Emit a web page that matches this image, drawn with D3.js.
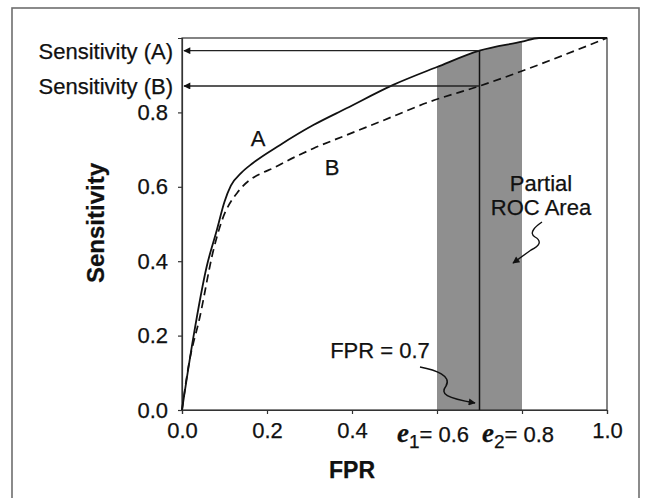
<!DOCTYPE html>
<html>
<head>
<meta charset="utf-8">
<script src="https://cdn.jsdelivr.net/npm/d3@7"></script>
<style>
  body { margin: 0; background: #fff; }
  text { font-family: "Liberation Sans", Arial, Helvetica, sans-serif; fill: #111; stroke: #111; stroke-width: 0.25px; }
</style>
</head>
<body>
<svg id="chart" width="648" height="498"></svg>
<script>
// ROC curve A (solid) and B (dashed): [FPR, sensitivity]
const curveA = [[0, 0], [0.027, 0.197], [0.058, 0.385], [0.082, 0.484], [0.1, 0.56], [0.115, 0.603], [0.14, 0.638],
    [0.167, 0.664], [0.23, 0.712], [0.309, 0.766], [0.387, 0.811], [0.497, 0.874], [0.6, 0.922],
    [0.7, 0.966], [0.8, 0.99], [0.84, 1.0], [1, 1]];
const curveB = [[0, 0], [0.015, 0.116], [0.042, 0.25], [0.074, 0.43], [0.093, 0.506], [0.132, 0.587],
    [0.23, 0.659], [0.309, 0.703], [0.387, 0.739], [0.466, 0.775], [0.584, 0.829], [0.7, 0.871], [1, 1]];
const yTicks = [0, 0.2, 0.4, 0.6, 0.8];
const xTicks = [0, 0.2, 0.4, 0.6, 0.8, 1.0];
const xTickLabels = ["0.0", "0.2", "0.4", "", "", "1.0"];
const band = [0.6, 0.8];          // partial ROC area e1..e2
const fprCut = 0.7;               // FPR = 0.7
const sensAt = [["Sensitivity (A)", 0.966], ["Sensitivity (B)", 0.871]];
const eLabels = [["1", 0.6], ["2", 0.8]];

const svg = d3.select("#chart");
const x = d3.scaleLinear().domain([0, 1]).range([182, 607]);
const y = d3.scaleLinear().domain([0, 1]).range([410, 38]);

// outer frame
svg.append("rect")
    .attr("x", 12).attr("y", 8).attr("width", 627).attr("height", 520)
    .attr("fill", "none").attr("stroke", "#6e6e6e").attr("stroke-width", 1.6);

svg.append("defs").append("marker")
    .attr("id", "arrow").attr("viewBox", "0 0 10 10")
    .attr("refX", 9).attr("refY", 5)
    .attr("markerWidth", 10).attr("markerHeight", 7)
    .attr("markerUnits", "userSpaceOnUse")
    .attr("orient", "auto")
    .append("path").attr("d", "M0,0 L10,5 L0,10 z").attr("fill", "#111");

// shaded partial area under A
let bandPts = curveA.filter(d => d[0] >= band[0] && d[0] <= band[1]);
svg.append("path")
    .datum(bandPts)
    .attr("fill", "#8f8f8f")
    .attr("d", d3.area().x(d => x(d[0])).y0(y(0)).y1(d => y(d[1])).curve(d3.curveMonotoneX));

// plot box
svg.append("rect")
    .attr("x", x(0)).attr("y", y(1)).attr("width", x(1) - x(0)).attr("height", y(0) - y(1))
    .attr("fill", "none").attr("stroke", "#333").attr("stroke-width", 1.2);

// axes
let yAxis = svg.append("g")
    .attr("transform", `translate(${x(0)},0)`)
    .call(d3.axisLeft(y).tickValues(yTicks).tickSize(4).tickPadding(10).tickFormat(d3.format(".1f")));
let xAxis = svg.append("g")
    .attr("transform", `translate(0,${y(0)})`)
    .call(d3.axisBottom(x).tickValues(xTicks).tickSize(4).tickPadding(8).tickFormat((d, i) => xTickLabels[i]));
[yAxis, xAxis].forEach(g => {
    g.select(".domain").attr("stroke", "#333").attr("stroke-width", 1.2);
    g.selectAll(".tick line").attr("stroke", "#333").attr("stroke-width", 1.2);
    g.selectAll(".tick text").attr("font-size", 22).attr("fill", "#111")
        .style("font-family", '"Liberation Sans", Arial, sans-serif');
});

// curves
let line = d3.line().x(d => x(d[0])).y(d => y(d[1])).curve(d3.curveMonotoneX);
svg.append("path").datum(curveB)
    .attr("fill", "none").attr("stroke", "#111").attr("stroke-width", 1.7)
    .attr("stroke-dasharray", "8,5").attr("d", line);
svg.append("path").datum(curveA)
    .attr("fill", "none").attr("stroke", "#111").attr("stroke-width", 1.8).attr("d", line);

// FPR = 0.7 vertical line
svg.append("line")
    .attr("x1", x(fprCut)).attr("x2", x(fprCut))
    .attr("y1", y(0)).attr("y2", y(sensAt[0][1]))
    .attr("stroke", "#111").attr("stroke-width", 1.5);

// sensitivity arrows and labels
sensAt.forEach(([label, v]) => {
    svg.append("line")
        .attr("x1", x(fprCut)).attr("x2", x(0) + 2)
        .attr("y1", y(v)).attr("y2", y(v))
        .attr("stroke", "#222").attr("stroke-width", 1.3)
        .attr("marker-end", "url(#arrow)");
    svg.append("text")
        .attr("x", 173).attr("y", y(v) + 8)
        .attr("text-anchor", "end")
        .attr("font-size", 22)
        .text(label);
});

// curve names
svg.append("text").attr("x", 258).attr("y", 146).attr("text-anchor", "middle").attr("font-size", 22).text("A");
svg.append("text").attr("x", 332).attr("y", 175).attr("text-anchor", "middle").attr("font-size", 22).text("B");

// axis titles
svg.append("text")
    .attr("transform", "translate(104,223) rotate(-90)")
    .attr("text-anchor", "middle").attr("font-size", 24).attr("font-weight", "bold")
    .text("Sensitivity");
svg.append("text")
    .attr("x", 352).attr("y", 478)
    .attr("text-anchor", "middle").attr("font-size", 23).attr("font-weight", "bold")
    .text("FPR");

// e1 / e2 labels
eLabels.forEach(([sub, v]) => {
    let t = svg.append("text").attr("x", x(v) - 40).attr("y", 442).attr("font-size", 22);
    t.append("tspan")
        .style("font-family", '"Liberation Serif", "Times New Roman", serif')
        .attr("font-style", "italic").attr("font-weight", "bold").attr("font-size", 27)
        .text("e");
    t.append("tspan").attr("dy", 6).attr("font-size", 19).text(sub);
    t.append("tspan").attr("dy", -6).text("= " + d3.format(".1f")(v));
});

// Partial ROC Area note
svg.append("text").attr("x", 541).attr("y", 191).attr("text-anchor", "middle").attr("font-size", 22).text("Partial");
svg.append("text").attr("x", 541).attr("y", 215).attr("text-anchor", "middle").attr("font-size", 22).text("ROC Area");
svg.append("path")
    .attr("d", "M542,222 C536,226 528,233 535,237 C542,241 540,246 531,250 L513,263")
    .attr("fill", "none").attr("stroke", "#111").attr("stroke-width", 1.4)
    .attr("marker-end", "url(#arrow)");

// FPR = 0.7 note
svg.append("text").attr("x", 380).attr("y", 358).attr("text-anchor", "middle").attr("font-size", 22)
    .text("FPR = 0.7");
svg.append("path")
    .attr("d", "M420,367 C436,370 452,376 446,386 C440,394 446,398 475,403")
    .attr("fill", "none").attr("stroke", "#111").attr("stroke-width", 1.5)
    .attr("marker-end", "url(#arrow)");
</script>
</body>
</html>
